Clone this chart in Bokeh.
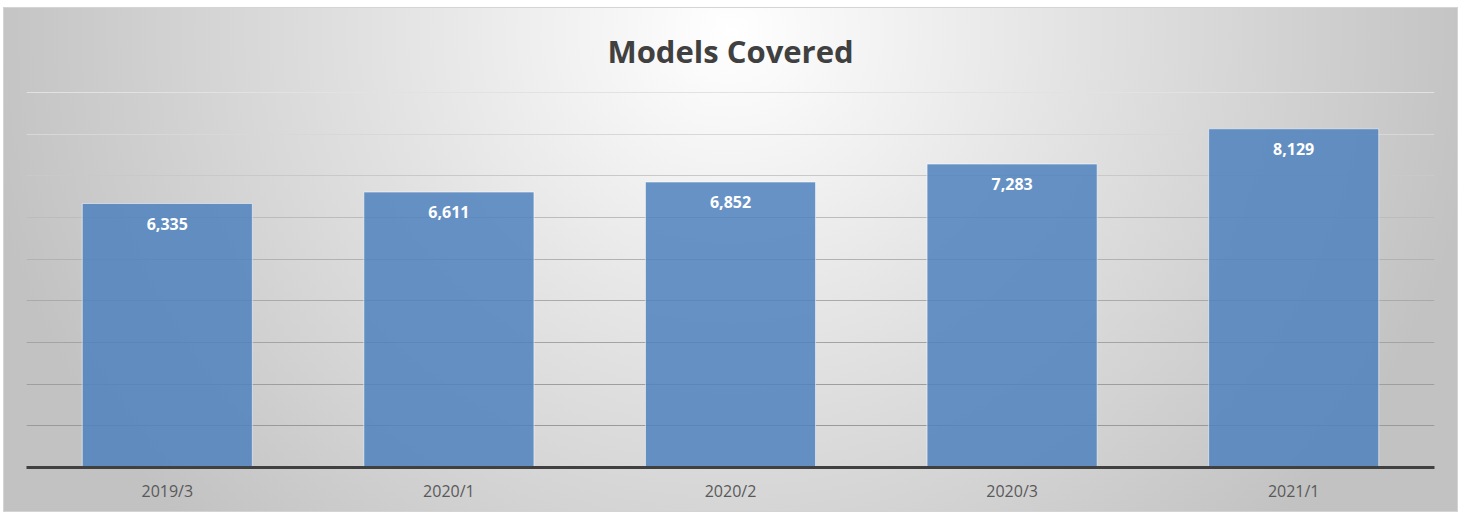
from bokeh.plotting import figure
from bokeh.models import ColumnDataSource, Range1d, FactorRange, LabelSet, Grid, FixedTicker
from bokeh.core.properties import value
from bokeh.embed import file_html
from bokeh.resources import INLINE

categories = ["2019/3", "2020/1", "2020/2", "2020/3", "2021/1"]
values = [6335, 6611, 6852, 7283, 8129]
labels = ["6,335", "6,611", "6,852", "7,283", "8,129"]
grid_ticks = [1000, 2000, 3000, 4000, 5000, 6000, 7000, 8000, 9000]
grid_colors = ["#9a9a9a", "#9e9e9e", "#a4a4a4", "#aaaaaa", "#b2b2b2", "#bcbcbc", "#c9c9c9", "#d8d8d8", "#e2e2e2"]

source = ColumnDataSource(dict(cat=categories, val=values, lab=labels))

p = figure(width=1455, height=505, x_range=FactorRange(*categories, range_padding=0),
           y_range=Range1d(0, 9024), output_backend="svg", toolbar_location=None,
           min_border_left=23, min_border_right=24, min_border_top=84, min_border_bottom=45)

p.styles = {
    "margin": "7px 0 0 3px",
    "background": "radial-gradient(ellipse 52% 140% at 50% 5%, #ffffff 0%, #e0e0e0 50%, #c2c2c2 100%)",
    "box-shadow": "inset 0 0 0 1px #d4d4d4",
}
p.background_fill_color = None
p.border_fill_color = None
p.outline_line_color = None

p.title.text = "Models Covered"
p.title.align = "center"
p.title.text_font = "Open Sans"
p.title.text_font_style = "bold"
p.title.text_font_size = "31px"
p.title.text_color = "#404040"
p.title.standoff = 40

p.xgrid.visible = False
p.ygrid.visible = False
for t, c in zip(grid_ticks, grid_colors):
    g = Grid(dimension=1, ticker=FixedTicker(ticks=[t]), grid_line_color=c, grid_line_width=1)
    p.add_layout(g)

p.vbar(x="cat", top="val", width=0.604, source=source, fill_color="#4F81BD", fill_alpha=0.85,
       line_color="#ffffff", line_alpha=0.55, line_width=1)

p.add_layout(LabelSet(x="cat", y="val", text="lab", source=source, text_align="center",
                      text_baseline="middle", y_offset=-20, text_color="#ffffff",
                      text_font=value("Open Sans"), text_font_style="bold", text_font_size="16px"))

p.yaxis.visible = False
ax = p.xaxis[0]
ax.axis_line_color = "#404040"
ax.axis_line_width = 3
ax.major_tick_line_color = None
ax.minor_tick_line_color = None
ax.major_label_text_font = "Open Sans"
ax.major_label_text_font_size = "16px"
ax.major_label_text_color = "#595959"
ax.major_label_standoff = 6

open("out.html", "w").write(file_html(p, INLINE))
